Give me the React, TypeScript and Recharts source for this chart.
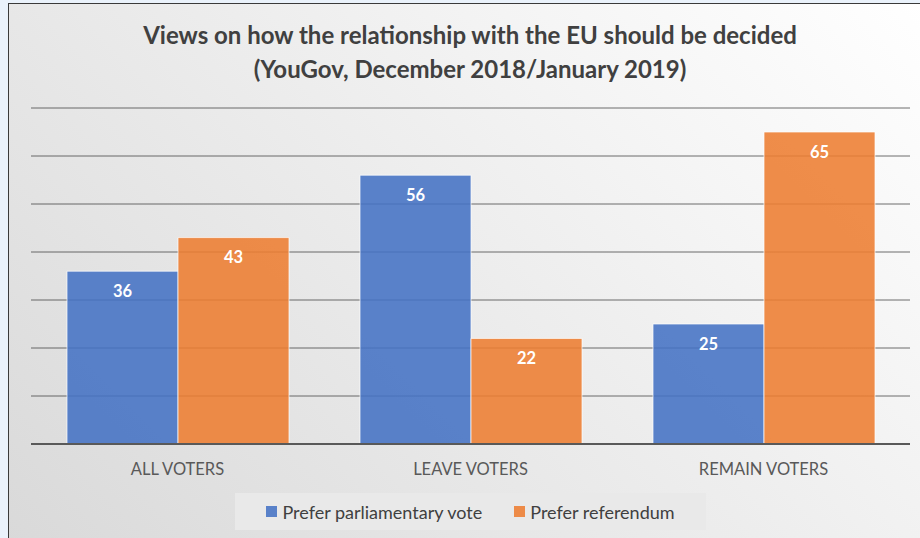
import { Bar, BarChart, CartesianGrid, LabelList, Legend, XAxis, YAxis } from "recharts"

const CATEGORIES = ["ALL VOTERS", "LEAVE VOTERS", "REMAIN VOTERS"]
const PARLIAMENTARY = [36, 56, 25]
const REFERENDUM = [43, 22, 65]
const Y_TICKS = [0, 10, 20, 30, 40, 50, 60, 70]

const SERIES = [
  { key: "parliamentary", name: "Prefer parliamentary vote", color: "#4472C4" },
  { key: "referendum", name: "Prefer referendum", color: "#ED7D31" },
]

const data = CATEGORIES.map((name, i) => ({
  name,
  parliamentary: PARLIAMENTARY[i],
  referendum: REFERENDUM[i],
}))

const FONT = "Lato, 'Open Sans', sans-serif"

function LegendBox() {
  return (
    <div
      style={{
        width: "100%",
        height: "100%",
        background: "#E9E9E9",
        display: "flex",
        alignItems: "center",
        justifyContent: "center",
        gap: 32,
        fontFamily: FONT,
        fontSize: 18,
        color: "#404040",
      }}
    >
      {SERIES.map((s) => (
        <div key={s.key} style={{ display: "flex", alignItems: "center", gap: 5 }}>
          <div style={{ width: 11, height: 11, background: s.color, opacity: 0.88 }} />
          <span>{s.name}</span>
        </div>
      ))}
    </div>
  )
}

export default function App() {
  return (
    <div style={{ position: "absolute", left: 0, top: 0, width: 920, height: 538, background: "#EAF2FB", overflow: "hidden" }}>
      <div
        style={{
          position: "absolute",
          left: 8,
          top: 3,
          width: 920,
          height: 545,
          border: "1px solid #3a3a3a",
          background: "linear-gradient(225deg, #ffffff 0%, #f2f2f2 35%, #d9d9d9 100%)",
        }}
      />
      <div
        style={{
          position: "absolute",
          left: 0,
          top: 18,
          width: 940,
          textAlign: "center",
          fontFamily: FONT,
          fontWeight: 700,
          fontSize: 24,
          lineHeight: "34px",
          color: "#404040",
        }}
      >
        Views on how the relationship with the EU should be decided
        <br />
        (YouGov, December 2018/January 2019)
      </div>
      <div style={{ position: "absolute", left: 0, top: 0 }}>
        <BarChart
          width={920}
          height={538}
          data={data}
          margin={{ top: 108, right: 10, bottom: 64, left: 31 }}
          barCategoryGap={36}
          barGap={0}
        >
          <YAxis hide domain={[0, 70]} ticks={Y_TICKS} />
          <XAxis
            dataKey="name"
            tickLine={false}
            axisLine={{ stroke: "#595959", strokeWidth: 2 }}
            tickMargin={13}
            tick={{ fill: "#595959", fontSize: 16.5, fontFamily: FONT }}
          />
          <CartesianGrid vertical={false} stroke="#3f3f3f" strokeOpacity={0.75} />
          {SERIES.map((s) => (
            <Bar
              key={s.key}
              dataKey={s.key}
              name={s.name}
              fill={s.color}
              fillOpacity={0.88}
              stroke="#ffffff"
              strokeOpacity={0.7}
              isAnimationActive={false}
            >
              <LabelList
                dataKey={s.key}
                position="insideTop"
                offset={14}
                fill="#ffffff"
                fontSize={16.5}
                fontWeight={700}
                fontFamily={FONT}
              />
            </Bar>
          ))}
          <Legend
            verticalAlign="middle"
            align="center"
            layout="horizontal"
            content={() => <LegendBox />}
            wrapperStyle={{ top: 493, left: 235, width: 471, height: 37 }}
          />
        </BarChart>
      </div>
    </div>
  )
}
